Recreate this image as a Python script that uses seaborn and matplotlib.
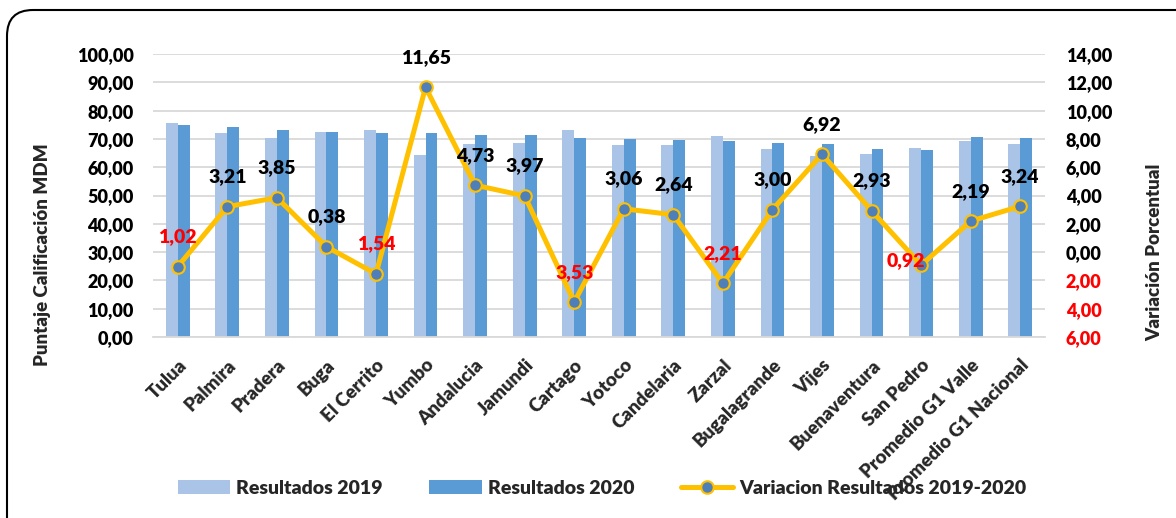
import numpy as np
import pandas as pd
import matplotlib
matplotlib.use("Agg")
import matplotlib.pyplot as plt
import seaborn as sns
from matplotlib.patches import FancyBboxPatch, Patch
from matplotlib.lines import Line2D
from matplotlib.ticker import FuncFormatter, MultipleLocator
from matplotlib.transforms import IdentityTransform

# Municipios y promedios comparados
municipios = [
    "Tulua", "Palmira", "Pradera", "Buga", "El Cerrito", "Yumbo", "Andalucia",
    "Jamundi", "Cartago", "Yotoco", "Candelaria", "Zarzal", "Bugalagrande",
    "Vijes", "Buenaventura", "San Pedro", "Promedio G1 Valle",
    "Promedio G1 Nacional",
]

# Puntaje de calificación MDM
resultados_2019 = [75.5, 72.0, 70.3, 72.3, 73.1, 64.4, 68.2, 68.7, 73.0,
                   67.7, 67.8, 70.9, 66.4, 64.0, 64.6, 66.9, 69.1, 68.1]
resultados_2020 = [74.9, 74.3, 73.0, 72.4, 72.1, 72.1, 71.4, 71.3, 70.4,
                   69.9, 69.6, 69.3, 68.6, 68.3, 66.4, 66.2, 70.7, 70.2]

# Variación porcentual 2019-2020
variacion = [-1.02, 3.21, 3.85, 0.38, -1.54, 11.65, 4.73, 3.97, -3.53,
             3.06, 2.64, -2.21, 3.00, 6.92, 2.93, -0.92, 2.19, 3.24]

color_2019 = "#A9C4E6"
color_2020 = "#5B9BD5"
color_linea = "#FFC000"
color_marcador = "#4E7FB8"
color_rejilla = "#D9D9D9"

PESO = "heavy"

sns.set_theme(style="white")
plt.rcParams["font.family"] = ["Lato", "DejaVu Sans"]
plt.rcParams["font.weight"] = PESO

W, H = 1176, 518
fig = plt.figure(figsize=(W / 100, H / 100), dpi=100)
ax = fig.add_axes([153 / W, 1 - 337 / H, (1045 - 153) / W, (337 - 54) / H])

n = len(municipios)
df = pd.DataFrame({
    "Municipio": municipios * 2,
    "Puntaje": resultados_2019 + resultados_2020,
    "Serie": ["Resultados 2019"] * n + ["Resultados 2020"] * n,
})

sns.barplot(data=df, x="Municipio", y="Puntaje", hue="Serie",
            palette=[color_2019, color_2020], width=0.48, gap=0,
            linewidth=0, saturation=1, ax=ax, legend=False)

def coma(v, _=None):
    return f"{abs(v):.2f}".replace(".", ",")

ax.set_xlim(-0.5, n - 0.5)
ax.set_ylim(0, 100)
ax.yaxis.set_major_locator(MultipleLocator(10))
ax.yaxis.set_major_formatter(FuncFormatter(coma))
ax.grid(axis="y", color=color_rejilla, linewidth=1.3)
ax.grid(axis="x", visible=False)
ax.set_axisbelow(True)
ax.set_xlabel("")
ax.set_ylabel("")
for s in ["top", "left", "right"]:
    ax.spines[s].set_visible(False)
ax.spines["bottom"].set_color(color_rejilla)
ax.spines["bottom"].set_linewidth(1.3)
ax.tick_params(axis="y", length=0, pad=14, labelsize=13, labelcolor="black")
ax.tick_params(axis="x", length=0, pad=14)
ax.set_xticks(range(n))
ax.set_xticklabels(municipios, rotation=45, ha="right", va="top",
                   rotation_mode="anchor", fontsize=13.5, fontweight=PESO)
for lbl in ax.get_yticklabels():
    lbl.set_fontweight(PESO)

# Eje secundario con la variación porcentual
ax2 = ax.twinx()
ax2.set_ylim(-6, 14)
ax2.yaxis.set_major_locator(MultipleLocator(2))
ax2.yaxis.set_major_formatter(FuncFormatter(coma))
ax2.tick_params(axis="y", length=0, pad=15, labelsize=13)
for s in ax2.spines.values():
    s.set_visible(False)
ax2.grid(False)
fig.canvas.draw()
for lbl, val in zip(ax2.get_yticklabels(), ax2.get_yticks()):
    lbl.set_color("#FF0000" if val < 0 else "black")
    lbl.set_fontweight(PESO)

sns.lineplot(x=np.arange(n), y=variacion, ax=ax2, color=color_linea,
             linewidth=3.6, marker="o", markersize=9,
             markerfacecolor=color_marcador, markeredgecolor=color_linea,
             markeredgewidth=1.5, legend=False)
ax2.set_ylabel("")

for i, v in enumerate(variacion):
    dx, dy = (-11, 3) if municipios[i] == "San Pedro" else (0, 21.5)
    ax2.annotate(coma(v), (i, v), xytext=(dx, dy), textcoords="offset points",
                 ha="center", va="center", fontsize=14, fontweight=PESO,
                 color="#FF0000" if v < 0 else "black")

fig.text(43 / W, 1 - 255 / H, "Puntaje Calificación MDM", rotation=90,
         ha="center", va="center", fontsize=13.5, fontweight=PESO)
fig.text(1155 / W, 1 - 252 / H, "Variación Porcentual", rotation=90,
         ha="center", va="center", fontsize=13.5, fontweight=PESO)

handles = [
    Patch(facecolor=color_2019, edgecolor="none", label="Resultados 2019"),
    Patch(facecolor=color_2020, edgecolor="none", label="Resultados 2020"),
    Line2D([0], [0], color=color_linea, linewidth=3.6, marker="o",
           markersize=9, markerfacecolor=color_marcador,
           markeredgecolor=color_linea, markeredgewidth=1.5,
           label="Variacion Resultados 2019-2020"),
]
leg = fig.legend(handles=handles, loc="center",
                 bbox_to_anchor=(602 / W, 1 - 488 / H),
                 ncol=3, frameon=False, handlelength=2.7,
                 handletextpad=0.3, columnspacing=2.4,
                 prop={"weight": PESO, "size": 14})
leg.set_zorder(0)

# Marco redondeado del gráfico
marco = FancyBboxPatch((7, -40), 1300, H - 10 + 40,
                       boxstyle="round,pad=0,rounding_size=26",
                       transform=IdentityTransform(), fill=False,
                       edgecolor="black", linewidth=1.5)
fig.patches.append(marco)

fig.savefig("out.png", dpi=100)
